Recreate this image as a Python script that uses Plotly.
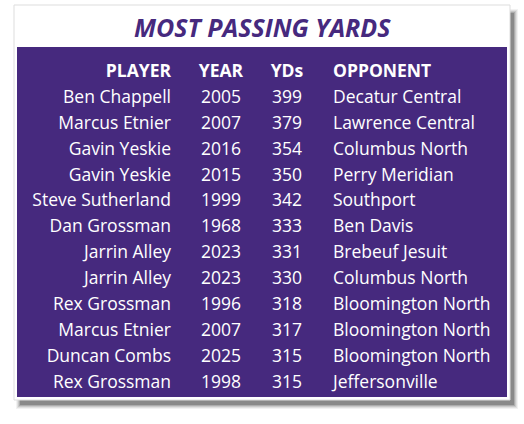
import plotly.graph_objects as go

title = "MOST PASSING YARDS"
headers = ["PLAYER", "YEAR", "YDs", "OPPONENT"]
players = ["Ben Chappell", "Marcus Etnier", "Gavin Yeskie", "Gavin Yeskie", "Steve Sutherland",
           "Dan Grossman", "Jarrin Alley", "Jarrin Alley", "Rex Grossman", "Marcus Etnier",
           "Duncan Combs", "Rex Grossman"]
years = [2005, 2007, 2016, 2015, 1999, 1968, 2023, 2023, 1996, 2007, 2025, 1998]
yards = [399, 379, 354, 350, 342, 333, 331, 330, 318, 317, 315, 315]
opponents = ["Decatur Central", "Lawrence Central", "Columbus North", "Perry Meridian", "Southport",
             "Ben Davis", "Brebeuf Jesuit", "Columbus North", "Bloomington North",
             "Bloomington North", "Bloomington North", "Jeffersonville"]

PURPLE = "#46297e"
FONT = "Open Sans"
rows = list(range(len(players)))

fig = go.Figure()
cols = [
    (171, [str(p) for p in players], "middle left", headers[0]),
    (221, [str(y) for y in years], "middle center", headers[1]),
    (287, [str(v) for v in yards], "middle center", headers[2]),
    (333, opponents, "middle right", headers[3]),
]
for x, vals, pos, h in cols:
    fig.add_trace(go.Scatter(x=[x] * len(vals), y=rows, text=vals, mode="text",
                             textposition=pos, cliponaxis=False,
                             textfont=dict(family=FONT, size=17.5, color="white"), hoverinfo="skip"))
    fig.add_trace(go.Scatter(x=[x], y=[-1], text=[h], mode="text", textposition=pos, cliponaxis=False,
                             textfont=dict(family=FONT, size=17.5, color="white", weight=700), hoverinfo="skip"))

shapes = []
for i, op in enumerate([0.05, 0.07, 0.1, 0.14, 0.2]):
    d = 5 - i
    shapes.append(dict(type="rect", xref="x", yref="paper", x0=17 - d + 4, x1=513 + d,
                       y0=1 - (404 + d) / 424, y1=1 - (10 - d + 4) / 424,
                       fillcolor=f"rgba(0,0,0,{op})", line_width=0, layer="below"))
shapes.append(dict(type="rect", xref="x", yref="paper", x0=14, x1=510, y0=1 - 400 / 424, y1=1 - 5 / 424,
                   fillcolor="white", line=dict(color="#dddddd", width=1), layer="below"))
shapes.append(dict(type="rect", xref="x", yref="paper", x0=17, x1=507, y0=1 - 397 / 424, y1=1 - 47 / 424,
                   fillcolor=PURPLE, line_width=0, layer="below"))

y0 = 98.5
fig.update_layout(
    width=524, height=424, margin=dict(l=0, r=0, t=0, b=0),
    paper_bgcolor="white", plot_bgcolor="white", showlegend=False, shapes=shapes,
    xaxis=dict(range=[0, 524], visible=False, fixedrange=True),
    yaxis=dict(range=[(424 - y0) / 25.9, -y0 / 25.9], visible=False, fixedrange=True),
    annotations=[dict(x=262, xref="x", y=1 - 27 / 424, yref="paper", yanchor="middle",
                      text=f"<i><b>{title}</b></i>",
                      showarrow=False, font=dict(family=FONT, size=25, color=PURPLE, weight=800))],
)
fig.write_html("out.html", config={"displayModeBar": False},
               post_script="document.body.style.margin='0';document.body.style.overflow='hidden';")
